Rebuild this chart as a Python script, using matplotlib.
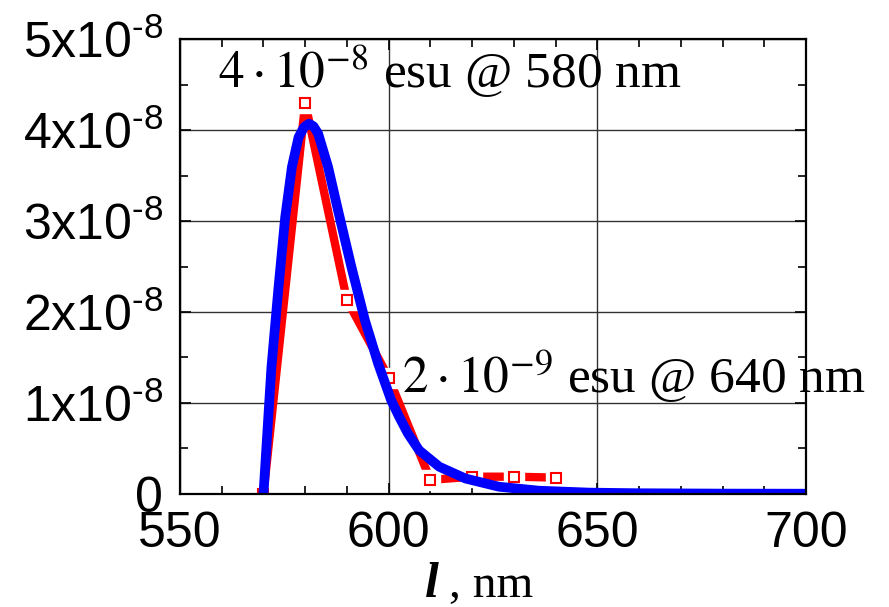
import numpy as np
import matplotlib
matplotlib.use('Agg')
import matplotlib.pyplot as plt
from matplotlib import font_manager
from matplotlib.ticker import MultipleLocator, FixedLocator, FixedFormatter

# measured points (wavelength, nm / susceptibility, 1e-8 esu)
meas_wl = [570, 580, 590, 600, 610, 620, 630, 640]
meas_val = [0.0, 4.30, 2.13, 1.28, 0.155, 0.19, 0.19, 0.18]

# fitted curve, read point by point
fit_wl = [570.0, 571.9, 573.6, 575.2, 576.8, 578.4, 579.7, 580.9, 582.0, 583.1,
          585.5, 587.9, 591.1, 594.3, 597.5, 600.6, 602.5, 604.6, 607.3, 612.1,
          618.4, 626.4, 636.0, 648.0, 660.0, 680.0, 700.0]
fit_val = [0.0, 1.39, 2.27, 3.04, 3.59, 3.92, 4.03, 4.07, 4.04, 3.96,
           3.59, 3.11, 2.49, 1.91, 1.43, 1.03, 0.85, 0.666, 0.48, 0.30,
           0.17, 0.08, 0.036, 0.015, 0.008, 0.004, 0.003]

y_ticks = [0, 1, 2, 3, 4, 5]
y_labels = ['0', '1x10$^{\u20108}$', '2x10$^{\u20108}$', '3x10$^{\u20108}$',
            '4x10$^{\u20108}$', '5x10$^{\u20108}$']
x_ticks = [550, 600, 650, 700]

scale = 1e-8

installed = {f.name for f in font_manager.fontManager.ttflist}
sans = 'Liberation Sans Narrow' if 'Liberation Sans Narrow' in installed else 'Liberation Sans'
tick_size = 42 if sans.endswith('Narrow') else 36

plt.rcParams['mathtext.fontset'] = 'custom'
plt.rcParams['mathtext.rm'] = sans
plt.rcParams['mathtext.it'] = sans + ':italic'
plt.rcParams['mathtext.bf'] = sans + ':bold'

fig = plt.figure(figsize=(8.89, 6.07), dpi=100)
ax = fig.add_axes([0.2025, 0.1862, 0.7041, 0.7495])

mx = np.array(meas_wl)
my = np.array(meas_val) * scale
fx = np.array(fit_wl)
fy = np.array(fit_val) * scale

# red data line, white halo under the symbols leaves the gaps
ax.plot(mx, my, color='red', lw=6, solid_capstyle='round', solid_joinstyle='round', zorder=2)
ax.plot(mx, my, ls='none', marker='s', ms=15, mfc='white', mec='white', zorder=2.1)
ax.plot(mx, my, ls='none', marker='s', ms=7, mfc='white', mec='red', mew=1.5, zorder=2.2)

# blue fit on top
ax.plot(fx, fy, color='blue', lw=7, solid_capstyle='round', solid_joinstyle='round', zorder=3)

ax.set_xlim(550, 700)
ax.set_ylim(0, 5 * scale)

ax.xaxis.set_major_locator(FixedLocator(x_ticks))
ax.xaxis.set_minor_locator(MultipleLocator(10))
ax.yaxis.set_major_locator(FixedLocator([v * scale for v in y_ticks]))
ax.yaxis.set_major_formatter(FixedFormatter(y_labels))
ax.yaxis.set_minor_locator(MultipleLocator(0.5 * scale))

ax.tick_params(which='both', direction='in', top=True, right=True, width=1.2, colors='black')
ax.tick_params(which='major', length=8)
ax.tick_params(which='minor', length=6)
ax.tick_params(axis='x', which='major', pad=12, labelsize=tick_size)
ax.tick_params(axis='y', which='major', pad=12, labelsize=tick_size)
for lab in ax.get_xticklabels() + ax.get_yticklabels():
    lab.set_fontfamily(sans)
for lab in ax.get_yticklabels():
    lab.set_verticalalignment('center_baseline')

ax.grid(True, which='major', color='0.2', lw=1.0)
ax.set_axisbelow(True)
for s in ax.spines.values():
    s.set_linewidth(1.6)
    s.set_zorder(4)

# value annotations
ax.text(559.1, 4.46 * scale, r'$4\cdot10^{-8}$ esu @ 580 nm', fontsize=37,
        family='Liberation Serif', math_fontfamily='stix', va='baseline', zorder=5)
ax.text(603.2, 1.11 * scale, r'$2\cdot10^{-9}$ esu @ 640 nm', fontsize=37,
        family='Liberation Serif', math_fontfamily='stix', va='baseline', zorder=5)

# axis title: bold italic l, then ", nm"
fig.text(0.478, 0.0165, 'l', fontsize=36, family='Liberation Serif',
         fontweight='bold', style='italic', va='baseline')
fig.text(0.505, 0.0165, ', nm', fontsize=34, family='Liberation Serif', va='baseline')

fig.savefig('out.png', dpi=100)
